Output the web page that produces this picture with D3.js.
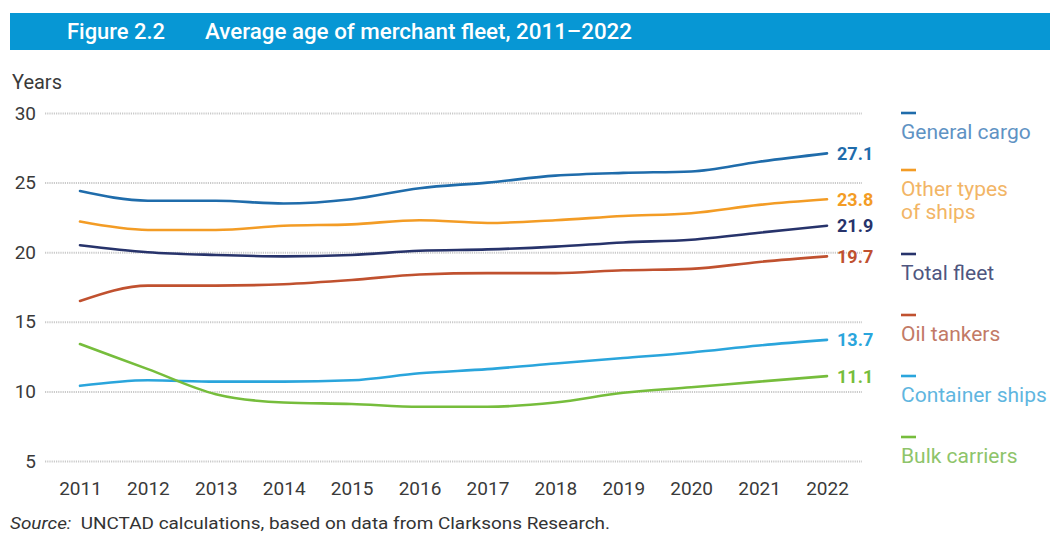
<!DOCTYPE html>
<html>
<head>
<meta charset="utf-8">
<script src="https://cdn.jsdelivr.net/npm/d3@7"></script>
<style>
  html, body { margin: 0; padding: 0; background: #ffffff; }
  svg { display: block; }
  .narrow { font-family: "Roboto", "Liberation Sans", sans-serif; }
</style>
</head>
<body>
<svg id="chart" width="1050" height="536"></svg>
<script>
// Average age of the merchant fleet by vessel type, 2011–2022 (years)
const years = [2011, 2012, 2013, 2014, 2015, 2016, 2017, 2018, 2019, 2020, 2021, 2022];
const generalCargo   = [24.4, 23.7, 23.7, 23.5, 23.8, 24.6, 25.0, 25.5, 25.7, 25.8, 26.5, 27.1];
const otherTypes     = [22.2, 21.6, 21.6, 21.9, 22.0, 22.3, 22.1, 22.3, 22.6, 22.8, 23.4, 23.8];
const totalFleet     = [20.5, 20.0, 19.8, 19.7, 19.8, 20.1, 20.2, 20.4, 20.7, 20.9, 21.4, 21.9];
const oilTankers     = [16.5, 17.6, 17.6, 17.7, 18.0, 18.4, 18.5, 18.5, 18.7, 18.8, 19.3, 19.7];
const containerShips = [10.4, 10.8, 10.7, 10.7, 10.8, 11.3, 11.6, 12.0, 12.4, 12.8, 13.3, 13.7];
const bulkCarriers   = [13.4, 11.6, 9.8, 9.2, 9.1, 8.9, 8.9, 9.2, 9.9, 10.3, 10.7, 11.1];
const yTicks = [5, 10, 15, 20, 25, 30];

const series = [
  { name: ["General cargo"],          values: generalCargo,   color: "#1f6cab", legendColor: "#5f93c4" },
  { name: ["Other types", "of ships"], values: otherTypes,     color: "#f39c25", legendColor: "#f2b566" },
  { name: ["Total fleet"],            values: totalFleet,     color: "#27336b", legendColor: "#4f5680" },
  { name: ["Oil tankers"],            values: oilTankers,     color: "#c0512f", legendColor: "#c27a66" },
  { name: ["Container ships"],        values: containerShips, color: "#2aa5dc", legendColor: "#5fb6e0" },
  { name: ["Bulk carriers"],          values: bulkCarriers,   color: "#76bd3c", legendColor: "#8ec46a" }
];

const svg = d3.select("#chart");

// Title banner
svg.append("rect")
  .attr("x", 10).attr("y", 13).attr("width", 1040).attr("height", 37)
  .attr("fill", "#0797d4");
svg.append("text").attr("class", "narrow")
  .attr("x", 67).attr("y", 39)
  .attr("fill", "#ffffff").attr("font-size", 22).attr("font-weight", 500)
  .attr("textLength", 98).attr("lengthAdjust", "spacingAndGlyphs")
  .text("Figure 2.2");
svg.append("text").attr("class", "narrow")
  .attr("x", 205).attr("y", 39)
  .attr("fill", "#ffffff").attr("font-size", 22).attr("font-weight", 500)
  .attr("textLength", 427).attr("lengthAdjust", "spacingAndGlyphs")
  .text("Average age of merchant fleet, 2011–2022");

// Scales
const x = d3.scalePoint().domain(years).range([80, 827]);
const y = d3.scaleLinear().domain([5, 30]).range([461, 113]);

// Axis unit label
svg.append("text").attr("class", "narrow")
  .attr("x", 12).attr("y", 89)
  .attr("fill", "#3a3a3a").attr("font-size", 20)
  .text("Years");

// Horizontal dotted gridlines with the value labels on the left
const yAxis = d3.axisLeft(y)
  .tickValues(yTicks)
  .tickSize(-(862 - 45))
  .tickPadding(9);
const yG = svg.append("g")
  .attr("transform", "translate(45,0)")
  .call(yAxis);
yG.select(".domain").remove();
yG.selectAll(".tick line")
  .attr("stroke", "#cacaca")
  .attr("stroke-width", 2)
  .attr("stroke-dasharray", "1.2 1");
yG.selectAll(".tick text")
  .attr("class", "narrow")
  .attr("fill", "#3a3a3a")
  .attr("font-size", 19)
  .attr("dy", "0.32em");

// Year labels along the bottom
const xAxis = d3.axisBottom(x).tickSize(0).tickPadding(0);
const xG = svg.append("g")
  .attr("transform", "translate(0,481)")
  .call(xAxis);
xG.select(".domain").remove();
xG.selectAll(".tick text")
  .attr("class", "narrow")
  .attr("fill", "#3a3a3a")
  .attr("font-size", 19)
  .attr("dy", "0.71em");

// Series lines
const line = d3.line()
  .x((d, i) => x(years[i]))
  .y(d => y(d))
  .curve(d3.curveMonotoneX);

svg.append("g").selectAll("path")
  .data(series)
  .join("path")
  .attr("d", d => line(d.values))
  .attr("fill", "none")
  .attr("stroke", d => d.color)
  .attr("stroke-width", 2.6)
  .attr("stroke-linejoin", "round")
  .attr("stroke-linecap", "round");

// End-of-line value labels for 2022
svg.append("g").selectAll("text")
  .data(series)
  .join("text")
  .attr("class", "narrow")
  .attr("x", x(years[years.length - 1]) + 10)
  .attr("y", d => y(d.values[d.values.length - 1]))
  .attr("dy", "0.36em")
  .attr("fill", d => d.color)
  .attr("font-size", 18)
  .attr("font-weight", "bold")
  .text(d => d.values[d.values.length - 1].toFixed(1));

// Legend: short coloured dash above each label
const legendTop = [113, 170, 254, 315, 376, 437];
const legend = svg.append("g").selectAll("g")
  .data(series)
  .join("g")
  .attr("transform", (d, i) => `translate(901,${legendTop[i]})`);
legend.append("line")
  .attr("x1", 0).attr("x2", 15)
  .attr("y1", 0).attr("y2", 0)
  .attr("stroke", d => d.color)
  .attr("stroke-width", 2.6);
legend.append("text")
  .attr("class", "narrow")
  .attr("fill", d => d.legendColor)
  .attr("font-size", 21)
  .selectAll("tspan")
  .data(d => d.name)
  .join("tspan")
  .attr("x", 0)
  .attr("y", (d, i) => 26 + i * 23)
  .text(d => d);

// Source note
const src = svg.append("text").attr("class", "narrow")
  .attr("x", 10).attr("y", 529)
  .attr("fill", "#333333").attr("font-size", 17)
  .attr("textLength", 600).attr("lengthAdjust", "spacingAndGlyphs");
src.append("tspan").attr("font-style", "italic").text("Source:");
src.append("tspan").text("\u00a0 UNCTAD calculations, based on data from Clarksons Research.");
</script>
</body>
</html>
